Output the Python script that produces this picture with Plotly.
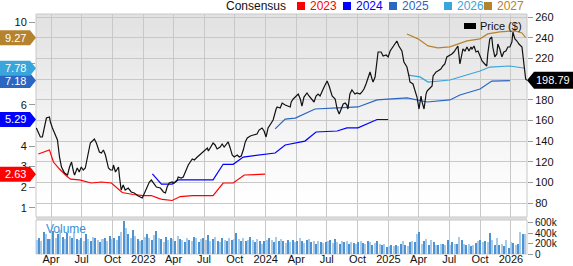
import plotly.graph_objects as go
import pandas as pd

# ---------------- DATA ----------------
price_dates = [
    "2022-02-16","2022-02-28","2022-03-06","2022-03-18","2022-03-27","2022-03-30","2022-04-05","2022-04-11",
    "2022-04-20","2022-04-26","2022-05-02","2022-05-11","2022-05-20","2022-05-26","2022-06-01","2022-06-07",
    "2022-06-10","2022-06-18","2022-06-24","2022-06-30","2022-07-06","2022-07-12","2022-07-21","2022-07-27",
    "2022-08-08","2022-08-14","2022-08-23","2022-08-29","2022-09-04","2022-09-10","2022-09-19","2022-09-25",
    "2022-10-01","2022-10-04","2022-10-10","2022-10-19","2022-10-22","2022-10-27","2022-11-02","2022-11-08",
    "2022-11-17","2022-11-26","2022-12-05","2022-12-17","2022-12-29","2023-01-04","2023-01-13","2023-01-19",
    "2023-01-25","2023-01-31","2023-02-09","2023-02-21","2023-03-02","2023-03-08","2023-03-13","2023-03-19",
    "2023-03-28","2023-04-03","2023-04-12","2023-04-15","2023-04-24","2023-04-30","2023-05-09","2023-05-15",
    "2023-05-27","2023-06-02","2023-06-11","2023-06-17","2023-06-26","2023-07-02","2023-07-11","2023-07-14",
    "2023-07-23","2023-07-28","2023-08-03","2023-08-09","2023-08-18","2023-08-24","2023-08-30","2023-09-08",
    "2023-09-11","2023-09-17","2023-09-23","2023-09-29","2023-10-08","2023-10-14","2023-10-20","2023-10-26",
    "2023-11-01","2023-11-07","2023-11-16","2023-11-25","2023-12-06","2023-12-12","2023-12-21","2023-12-27",
    "2024-01-02","2024-01-08","2024-01-17","2024-01-23","2024-02-01","2024-02-04","2024-02-13","2024-02-19",
    "2024-02-28","2024-03-05","2024-03-14","2024-03-17","2024-03-23","2024-04-01","2024-04-07","2024-04-13",
    "2024-04-18","2024-04-24","2024-05-03","2024-05-09","2024-05-18","2024-05-24","2024-05-30","2024-06-05",
    "2024-06-11","2024-06-17","2024-06-23","2024-07-02","2024-07-08","2024-07-17","2024-07-20","2024-07-26",
    "2024-08-01","2024-08-07","2024-08-13","2024-08-19","2024-08-25","2024-08-30","2024-09-02","2024-09-08",
    "2024-09-14","2024-09-23","2024-09-29","2024-10-08","2024-10-14","2024-10-20","2024-10-26","2024-11-01",
    "2024-11-07","2024-11-13","2024-11-16","2024-11-22","2024-11-28","2024-12-01","2024-12-10","2024-12-16",
    "2024-12-25","2024-12-31","2025-01-06","2025-01-15","2025-01-26","2025-02-01","2025-02-10","2025-02-16",
    "2025-02-25","2025-03-03","2025-03-06","2025-03-15","2025-03-21","2025-03-27","2025-04-02","2025-04-08",
    "2025-04-11","2025-04-17","2025-04-23","2025-04-26","2025-05-02","2025-05-11","2025-05-14","2025-05-23",
    "2025-05-28","2025-06-06","2025-06-12","2025-06-18","2025-06-24","2025-06-30","2025-07-09","2025-07-15",
    "2025-07-24","2025-07-27","2025-08-02","2025-08-08","2025-08-11","2025-08-17","2025-08-23","2025-08-29",
    "2025-09-04","2025-09-07","2025-09-13","2025-09-19","2025-09-25","2025-10-01","2025-10-07","2025-10-15",
    "2025-10-21","2025-10-24","2025-10-30","2025-11-05","2025-11-08","2025-11-14","2025-11-20","2025-11-23",
    "2025-11-29","2025-12-05","2025-12-11","2025-12-17","2025-12-23","2025-12-29","2026-01-04","2026-01-07",
    "2026-01-13","2026-01-19","2026-01-25","2026-02-03","2026-02-09","2026-02-14","2026-02-18",
]
price_vals = [
    152.8,144.1,144.1,162.4,163.4,158.6,152.8,148.0,
    141.2,124.8,115.1,109.3,107.4,115.1,119.9,110.3,
    107.4,114.1,110.3,115.1,112.2,114.1,126.7,138.3,
    142.1,138.3,129.6,128.6,131.5,126.7,114.1,112.2,
    112.2,117.0,110.3,115.1,105.4,92.9,97.7,92.9,
    94.8,91.0,90.0,87.1,85.2,90.0,97.7,100.6,
    102.5,99.6,95.8,94.8,91.0,90.0,95.8,99.6,
    100.6,99.6,102.5,105.4,104.4,105.4,112.2,117.0,
    122.8,121.9,124.8,126.7,128.6,131.5,133.5,130.6,
    135.4,138.3,136.4,132.5,134.4,137.3,134.4,138.3,
    139.3,133.5,126.7,124.8,126.7,124.8,125.7,131.5,
    139.3,143.1,145.0,146.0,147.0,150.8,152.8,149.9,
    144.1,152.8,157.6,160.5,171.1,173.1,172.1,176.9,
    175.0,174.0,173.1,177.9,180.8,183.7,185.6,180.8,
    174.0,182.7,186.6,183.7,180.8,177.9,183.7,185.6,
    183.7,188.5,192.4,198.2,193.3,183.7,182.7,180.8,
    171.1,166.3,171.1,176.0,176.9,175.0,171.1,185.6,
    189.5,185.6,186.6,185.6,187.6,190.4,195.3,202.0,
    206.9,200.1,197.2,202.0,216.5,226.2,226.2,222.3,
    223.3,221.4,227.2,232.0,236.8,232.0,227.2,216.5,
    211.7,203.0,197.2,195.3,188.5,182.7,171.1,183.7,
    177.9,171.1,185.6,188.5,190.4,193.3,203.0,206.9,
    207.8,209.8,212.7,214.6,221.4,222.3,224.3,226.2,
    231.0,232.0,214.6,226.2,229.1,227.2,231.0,227.2,
    231.0,229.1,232.0,226.2,227.2,222.3,217.5,214.6,
    212.7,224.3,238.7,240.7,231.0,221.4,224.3,233.9,
    229.1,221.4,226.2,227.2,231.0,231.0,235.9,245.5,
    238.7,236.8,233.9,231.0,211.7,200.1,198.79,
]

eps2023_dates = ["2022-02-22","2022-03-27","2022-04-08","2022-04-26","2022-05-17","2022-05-29","2022-06-24",
                 "2022-07-30","2022-08-29","2022-09-28","2022-10-30","2022-12-02","2023-01-01","2023-01-25",
                 "2023-02-18","2023-02-27","2023-03-28","2023-04-21","2023-05-27","2023-07-28","2023-08-27",
                 "2023-09-26","2023-10-29","2023-12-30"]
eps2023_vals = [3.61,3.81,3.22,2.88,2.54,2.39,2.35,2.20,2.25,2.20,1.74,1.64,1.59,1.59,1.44,1.40,1.35,1.54,
                1.59,1.59,2.20,2.20,2.59,2.63]

eps2024_dates = ["2023-01-28","2023-02-24","2023-03-28","2023-04-15","2023-07-28","2023-08-27","2023-09-26",
                 "2023-10-26","2024-01-29","2024-02-28","2024-04-27","2024-05-30","2024-08-01","2024-08-30",
                 "2024-10-02","2024-11-28","2024-12-31"]
eps2024_vals = [2.64,2.15,2.15,2.35,2.35,3.11,3.11,3.46,3.66,4.05,4.24,4.68,4.73,4.88,4.88,5.29,5.29]

eps2025_dates = ["2024-01-29","2024-02-28","2024-03-29","2024-04-27","2024-05-27","2024-08-01","2024-10-02",
                 "2024-11-28","2025-01-15","2025-02-25","2025-04-26","2025-07-03","2025-08-02","2025-10-01",
                 "2025-11-05","2025-12-29"]
eps2025_vals = [4.83,5.31,5.36,5.56,5.80,5.85,5.90,6.24,6.29,6.34,6.14,6.24,6.48,6.77,7.16,7.18]

eps2026_dates = ["2025-02-28","2025-04-05","2025-04-29","2025-07-03","2025-10-01","2025-10-30","2025-12-29",
                 "2026-02-12"]
eps2026_vals = [7.45,7.36,7.11,7.21,7.65,7.84,7.89,7.78]

eps2027_dates = ["2025-02-25","2025-03-30","2025-04-29","2025-05-28","2025-07-03","2025-08-23","2025-10-01",
                 "2025-10-24","2025-11-29","2026-01-13","2026-02-03","2026-02-14"]
eps2027_vals = [9.45,9.21,8.87,8.77,8.82,9.11,9.21,9.45,9.55,9.60,9.50,9.27]

# weekly volume, thousands of shares (first week 2022-02-18)
volume_start = "2022-02-18"
volume_k = [
    260,300,240,420,380,290,
    280,440,300,380,460,330,290,400,350,310,420,280,260,
    300,250,380,290,240,330,300,260,220,280,310,240,350,
    280,300,260,340,420,630,500,380,300,460,340,280,250,
    270,320,380,300,260,360,440,300,280,230,330,260,300,
    280,240,350,290,260,230,310,270,250,330,300,220,280,
    300,260,360,240,280,320,250,230,300,270,240,310,260,
    280,400,290,250,300,240,270,330,260,220,290,250,200,
    240,270,300,260,230,320,250,280,240,210,270,230,260,
    230,250,300,240,210,260,280,220,240,200,250,230,210,
    220,240,260,210,280,230,200,250,220,240,190,230,210,
    200,230,250,210,190,240,220,180,210,250,200,170,190,
    130,150,170,160,180,150,200,240,170,160,230,250,220,
    380,430,190,250,280,180,270,220,180,170,190,200,180,
    270,180,220,190,200,320,270,190,170,200,150,180,210,
    250,260,220,240,230,410,270,180,300,170,200,160,260,
    120,220,210,170,200,430,390,380,
]

x_tick_dates = ["2022-04-01","2022-07-01","2022-10-01","2023-01-01","2023-04-01","2023-07-01","2023-10-01",
                "2024-01-01","2024-04-01","2024-07-01","2024-10-01","2025-01-01","2025-04-01","2025-07-01",
                "2025-10-01","2026-01-01"]
x_tick_text = ["Apr","Jul","Oct","2023","Apr","Jul","Oct","2024","Apr","Jul","Oct","2025","Apr","Jul","Oct","2026"]

eps_ticks = [1, 2, 3, 4, 6, 8, 10]
eps_tick_text = ["1", "2", "3", "4", "6", "", "10"]          # 8 sits under the 7.78 flag
price_ticks = [80, 100, 120, 140, 160, 180, 200, 220, 240, 260]
price_tick_text = ["80", "100", "120", "140", "160", "180", "", "220", "240", "260"]  # 200 under price flag
vol_ticks = [0, 200, 400, 600]
vol_tick_text = ["0", "200k", "400k", "600k"]

series_names = ["2023", "2024", "2025", "2026", "2027"]
series_colors = ["#ff0000", "#0000ff", "#2a66c2", "#3aa5da", "#b5832e"]

# ---------------- LAYOUT GEOMETRY ----------------
W, H = 573, 266
ML, MR, MT, MB = 36, 46, 14, 12
PW, PH = W - ML - MR, H - MT - MB


def px_x(px):
    return (px - ML) / PW


def px_y(py):
    return (H - MB - py) / PH


MAIN_DOM = [px_y(217), 1.0]
VOL_DOM = [0.0, px_y(220)]
EPS_RANGE = [0.547, 10.42]
PRICE_RANGE = [66.8, 262.9]
VOL_RANGE = [0, 650]
X_RANGE = ["2022-02-15", "2026-02-18"]

FONT = "Liberation Sans, Arial, sans-serif"
GRID = "#c8c8c8"

fig = go.Figure()

# volume bars
vol_dates = pd.date_range(volume_start, periods=len(volume_k), freq="7D")
vol_colors = ["#a9cbea" if i % 2 == 0 else "#4d93d4" for i in range(len(volume_k))]
fig.add_trace(go.Bar(x=vol_dates, y=volume_k, marker=dict(color=vol_colors, line=dict(width=0)),
                     width=4.5 * 86400000, xaxis="x", yaxis="y3", showlegend=False, hoverinfo="skip"))

# consensus lines
eps_series = [(eps2023_dates, eps2023_vals), (eps2024_dates, eps2024_vals), (eps2025_dates, eps2025_vals),
              (eps2026_dates, eps2026_vals), (eps2027_dates, eps2027_vals)]
for (d, v), name, col in zip(eps_series, series_names, series_colors):
    fig.add_trace(go.Scatter(x=d, y=v, mode="lines", line=dict(color=col, width=1.2),
                             xaxis="x2", yaxis="y", name=name, showlegend=False))

# price
fig.add_trace(go.Scatter(x=price_dates, y=price_vals, mode="lines", line=dict(color="#111111", width=1.2),
                         xaxis="x2", yaxis="y2", name="Price ($)", showlegend=False))

shapes = []
annotations = []

# gradient background for main panel
N = 40
top_px, fade_px = 14, 205
for i in range(N):
    a = top_px + (fade_px - top_px) * i / N
    b = top_px + (fade_px - top_px) * (i + 1) / N
    t = i / (N - 1)
    g = int(round(0xe2 + (0xff - 0xe2) * t))
    shapes.append(dict(type="rect", xref="paper", yref="paper", x0=0, x1=1, y0=px_y(b + 0.6), y1=px_y(a),
                       fillcolor=f"rgb({g},{g},{g})", line=dict(width=0), layer="below"))

# separator band and frames
shapes.append(dict(type="rect", xref="paper", yref="paper", x0=0, x1=1, y0=VOL_DOM[1], y1=MAIN_DOM[0],
                   fillcolor="#dedede", line=dict(width=0), layer="below"))
shapes.append(dict(type="rect", xref="paper", yref="paper", x0=0, x1=1, y0=MAIN_DOM[0], y1=1,
                   fillcolor="rgba(0,0,0,0)", line=dict(color=GRID, width=1), layer="below"))
shapes.append(dict(type="rect", xref="paper", yref="paper", x0=0, x1=1, y0=0, y1=VOL_DOM[1],
                   fillcolor="rgba(0,0,0,0)", line=dict(color=GRID, width=1), layer="below"))


def eps_paper_y(v):
    return MAIN_DOM[0] + (v - EPS_RANGE[0]) / (EPS_RANGE[1] - EPS_RANGE[0]) * (MAIN_DOM[1] - MAIN_DOM[0])


def price_paper_y(v):
    return MAIN_DOM[0] + (v - PRICE_RANGE[0]) / (PRICE_RANGE[1] - PRICE_RANGE[0]) * (MAIN_DOM[1] - MAIN_DOM[0])


# left value flags (last consensus values)
for (d, v), col in zip(eps_series, series_colors):
    yp = eps_paper_y(v[-1])
    shapes.append(dict(type="path", xref="paper", yref="paper", xsizemode="pixel", ysizemode="pixel",
                       xanchor=0, yanchor=yp, path="M-36,-7.5 L-6,-7.5 L0,0 L-6,7.5 L-36,7.5 Z",
                       fillcolor=col, line=dict(width=0), layer="above"))
    annotations.append(dict(xref="paper", yref="paper", x=px_x(3), y=yp, xanchor="left", yanchor="middle",
                            text=f"{v[-1]:.2f}", showarrow=False, font=dict(family=FONT, size=11, color="white")))

# right price flag
yp = price_paper_y(price_vals[-1])
shapes.append(dict(type="path", xref="paper", yref="paper", xsizemode="pixel", ysizemode="pixel",
                   xanchor=1, yanchor=yp, path="M0,0 L7,8.5 L46,8.5 L46,-8.5 L7,-8.5 Z",
                   fillcolor="#000000", line=dict(width=0), layer="above"))
annotations.append(dict(xref="paper", yref="paper", x=px_x(553), y=yp, xanchor="center", yanchor="middle",
                        text=f"{price_vals[-1]:.2f}", showarrow=False,
                        font=dict(family=FONT, size=11, color="white")))

# top legend
annotations.append(dict(xref="paper", yref="paper", x=px_x(224), y=px_y(6), xanchor="left", yanchor="middle",
                        text="Consensus", showarrow=False, font=dict(family=FONT, size=12, color="#111")))
legend_sq_left = [297, 343, 389, 444, 484]
for sx, name, col in zip(legend_sq_left, series_names, series_colors):
    shapes.append(dict(type="rect", xref="paper", yref="paper", x0=px_x(sx), x1=px_x(sx + 8),
                       y0=px_y(10), y1=px_y(2), fillcolor=col, line=dict(width=0)))
    annotations.append(dict(xref="paper", yref="paper", x=px_x(sx + 11), y=px_y(6), xanchor="left",
                            yanchor="middle", text=name, showarrow=False,
                            font=dict(family=FONT, size=12, color=col)))

# price legend
shapes.append(dict(type="rect", xref="paper", yref="paper", x0=px_x(464), x1=px_x(476), y0=px_y(29), y1=px_y(23),
                   fillcolor="#000000", line=dict(width=0)))
annotations.append(dict(xref="paper", yref="paper", x=px_x(478), y=px_y(26), xanchor="left", yanchor="middle",
                        text="Price ($)", showarrow=False, font=dict(family=FONT, size=11, color="#111")))

# volume label
annotations.append(dict(xref="paper", yref="paper", x=px_x(44), y=px_y(229), xanchor="left", yanchor="middle",
                        text="Volume", showarrow=False, font=dict(family=FONT, size=12, color="#3b8fd3")))

tickfont = dict(family=FONT, size=11, color="#111")
volfont = dict(family=FONT, size=10, color="#111")

fig.update_layout(
    width=W, height=H, margin=dict(l=ML, r=MR, t=MT, b=MB, autoexpand=False),
    paper_bgcolor="white", plot_bgcolor="rgba(0,0,0,0)",
    showlegend=False, bargap=0,
    xaxis=dict(domain=[0, 1], anchor="y3", type="date", range=X_RANGE, tickvals=x_tick_dates,
               ticktext=x_tick_text, showgrid=True, gridcolor=GRID, gridwidth=1, ticks="",
               tickfont=tickfont, showline=False, zeroline=False, automargin=False,
               ticklabelstandoff=-3),
    xaxis2=dict(domain=[0, 1], anchor="y", type="date", matches="x", range=X_RANGE, tickvals=x_tick_dates,
                showticklabels=False, showgrid=True, gridcolor=GRID, gridwidth=1, ticks="", showline=False,
                automargin=False),
    yaxis=dict(domain=MAIN_DOM, anchor="x2", side="left", range=EPS_RANGE, tickvals=eps_ticks,
               ticktext=eps_tick_text, showgrid=False, zeroline=False, ticks="outside", ticklen=6,
               tickcolor="#999", tickfont=tickfont, showline=False, automargin=False),
    yaxis2=dict(overlaying="y", anchor="x2", side="right", range=PRICE_RANGE, tickvals=price_ticks,
                ticktext=price_tick_text, showgrid=True, gridcolor=GRID, gridwidth=1, zeroline=False,
                ticks="outside", ticklen=5, tickcolor="#999", tickfont=tickfont, showline=False,
                automargin=False),
    yaxis3=dict(domain=VOL_DOM, anchor="x", side="right", range=VOL_RANGE, tickvals=vol_ticks,
                ticktext=vol_tick_text, showgrid=False, zeroline=False, ticks="outside", ticklen=5,
                tickcolor="#999", tickfont=volfont, showline=False, automargin=False),
    shapes=shapes, annotations=annotations,
)

fig.write_html("out.html")
